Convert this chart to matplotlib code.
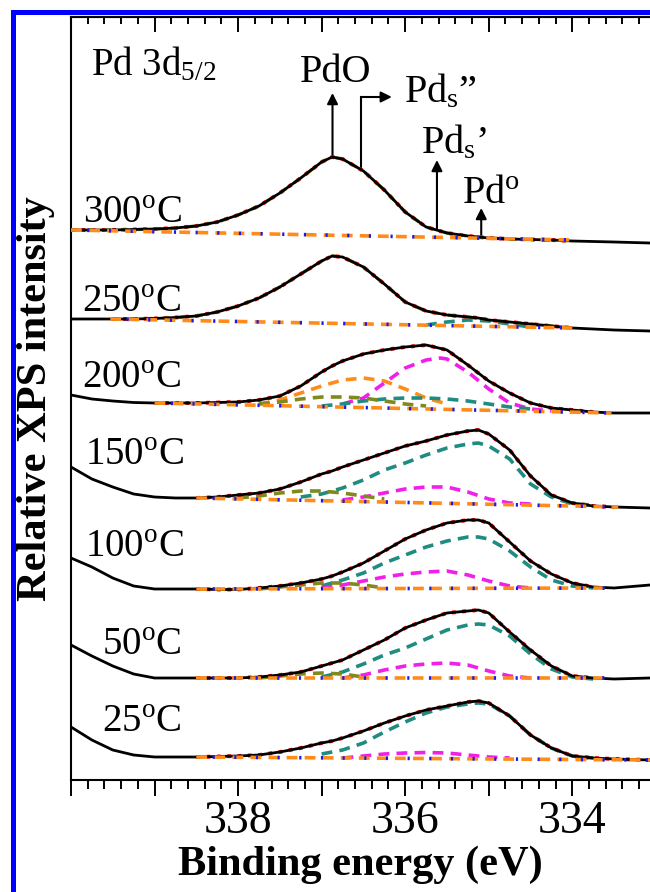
import matplotlib
matplotlib.use("Agg")
import matplotlib.pyplot as plt
import numpy as np
from matplotlib.patches import Rectangle
from matplotlib.ticker import MultipleLocator, FuncFormatter

plt.rcParams['font.family'] = ['Liberation Serif', 'DejaVu Serif']
plt.rcParams['mathtext.fontset'] = 'custom'
plt.rcParams['mathtext.rm'] = 'Liberation Serif'
plt.rcParams['mathtext.it'] = 'Liberation Serif:italic'
plt.rcParams['mathtext.bf'] = 'Liberation Serif:bold'

# binding energy grid of the measured spectra (eV)
energy = [340.0, 339.75, 339.5, 339.25, 339.0, 338.75, 338.5, 338.25, 338.0, 337.75,
          337.5, 337.25, 337.0, 336.875, 336.75, 336.5, 336.25, 336.0, 335.75, 335.5,
          335.25, 335.125, 335.0, 334.75, 334.5, 334.25, 334.0, 333.75, 333.5, 333.07]

temps = ['300', '250', '200', '150', '100', '50', '25']
tick_labels = ['338', '336', '334']

# stacked spectra (relative intensity, arbitrary units incl. offset)
spec_300 = [550, 550, 550, 550.5, 551, 552, 554, 558, 565, 574,
            587, 602, 618, 623, 621, 609, 590, 568, 553, 547,
            544, 543, 542, 541, 540.5, 540, 539, 538.5, 538, 537]
spec_250 = [461, 461, 461, 461, 461.5, 462.5, 464, 468, 474, 482,
            493, 506, 519, 524, 523, 513, 496, 478, 469, 465,
            463, 462, 460, 458, 456, 454, 452, 451, 450, 449]
spec_200 = [385, 381, 379, 377.5, 377, 377, 377, 377.5, 378, 380,
            384, 394, 408, 414, 419, 426, 430, 433, 435, 430,
            415, 407, 399, 387, 377, 372, 370, 368, 367, 367]
spec_150 = [313, 301, 293, 286, 283, 282, 282, 283, 285, 287,
            291, 298, 306, 309, 313, 320, 327, 334, 339, 345,
            349, 350, 346, 330, 304, 285, 277, 274, 273, 272]
spec_100 = [222, 213, 202, 194, 191, 191, 191, 190.5, 190.5, 192,
            194, 197, 201, 204, 208, 217, 229, 241, 250, 257,
            260, 260, 257, 238, 219, 206, 197, 193, 192, 195]
spec_50 = [135, 124, 114, 106, 102, 102, 102, 102, 102, 103,
           105, 108, 114, 117, 120, 130, 140, 152, 160, 167,
           169, 170, 167, 148, 130, 114, 104, 102, 101, 102]
spec_25 = [53, 40, 30, 25, 23, 23, 23, 23.5, 24, 25,
           28, 32, 37, 39, 42, 49, 57, 64, 70, 74,
           78, 79, 77, 64, 45, 32, 24, 22, 21, 20]
spectra = [spec_300, spec_250, spec_200, spec_150, spec_100, spec_50, spec_25]

# fitting background (linear, start/end)
bg_e_start = [340.0, 339.53, 339.0, 338.5, 338.5, 338.5, 338.5]
bg_e_end = [334.0, 334.0, 333.53, 333.45, 333.55, 333.6, 333.07]
bg_h_start = [550, 461, 377, 282, 191, 102, 23]
bg_h_end = [540, 452, 367, 273, 192, 102, 20]

# fitted components
pd0_250_e = [335.75, 335.5, 335.25, 335.0, 334.75, 334.5]
pd0_250 = [455, 458, 460, 459, 456, 453]

pds2_200_e = [337.75, 337.5, 337.25, 337.0, 336.75, 336.5, 336.25, 336.0, 335.75, 335.5]
pds2_200 = [376, 380, 387, 394, 400, 402, 399, 391, 382, 376]
pds1_200_e = [336.75, 336.5, 336.25, 336.0, 335.75, 335.58, 335.5, 335.25, 335.0, 334.75, 334.5, 334.25]
pds1_200 = [376, 382, 397, 412, 420, 422, 421, 408, 391, 377, 371, 369]
pd0_200_e = [337.0, 336.75, 336.5, 336.25, 336.0, 335.75, 335.5, 335.25, 335.0, 334.75, 334.5]
pd0_200 = [374, 376, 379, 381, 382, 382, 381, 379, 376, 373, 371]
pdo_200_e = [337.75, 337.5, 337.25, 337.0, 336.75, 336.5, 336.25, 336.0, 335.75]
pdo_200 = [376, 378, 381, 383, 383, 382, 379, 376, 374]

pd0_150_e = [337.25, 337.0, 336.75, 336.5, 336.25, 336.0, 335.75, 335.5, 335.25, 335.125,
             335.0, 334.75, 334.5, 334.25, 334.0, 333.75]
pd0_150 = [283, 286, 292, 300, 310, 317, 325, 332, 336, 337, 334, 321, 296, 283, 276, 275]
pds1_150_e = [336.75, 336.5, 336.25, 336.0, 335.75, 335.5, 335.25, 335.0, 334.75, 334.5]
pds1_150 = [280, 283, 287, 291, 293, 293, 288, 281, 277, 276]
pdo_150_e = [338.0, 337.75, 337.5, 337.25, 337.0, 336.75, 336.5, 336.25]
pdo_150 = [282, 284, 287, 289, 289, 287, 284, 281]

pd0_e = [337.0, 336.75, 336.5, 336.25, 336.0, 335.75, 335.5, 335.25, 335.125, 335.0,
         334.75, 334.5, 334.25, 334.0, 333.75]
pd0_100 = [194, 200, 207, 217, 225, 233, 239, 243, 243, 241, 229, 213, 200, 194, 192]
pd0_50 = [103, 108, 116, 125, 132, 141, 150, 155, 156, 155, 144, 126, 111, 103, 101]
pd0_25 = [26, 30, 37, 48, 58, 67, 73, 76, 77, 76, 64, 45, 32, 24, 22]

pds1_100_e = [337.0, 336.75, 336.5, 336.25, 336.0, 335.75, 335.5, 335.25, 335.0, 334.75, 334.5]
pds1_100 = [192, 195, 199, 203, 206, 208, 209, 205, 199, 194, 192]
pds1_50_e = [336.75, 336.5, 336.25, 336.0, 335.75, 335.5, 335.25, 335.0, 334.75, 334.5]
pds1_50 = [102, 105, 110, 114, 116, 117, 115, 109, 104, 102]
pds1_25_e = [336.75, 336.5, 336.25, 336.0, 335.75, 335.5, 335.25, 335.0, 334.75]
pds1_25 = [22, 24, 26, 27, 27.5, 27, 25, 23, 22]

pdo_100_e = [337.75, 337.5, 337.25, 337.0, 336.75, 336.5, 336.25]
pdo_100 = [191, 193, 195, 197, 197, 195, 192]
pdo_50_e = [337.75, 337.5, 337.25, 337.0, 336.75, 336.5]
pdo_50 = [102, 104, 106, 107, 106, 103]

# peak positions marked on top spectrum (eV)
peak_names = ['PdO', 'Pd$_{\\rm s}$\u201d', 'Pd$_{\\rm s}$\u2019', 'Pd$^{\\rm o}$']
peak_pos = [336.87, 336.53, 335.62, 335.09]

C_ORANGE = '#FF8C1A'
C_MAGENTA = '#F020E8'
C_TEAL = '#1E8C80'
C_OLIVE = '#7F8A1E'
C_BLUE = '#1A1AE6'

fig = plt.figure(figsize=(6.5, 8.92), dpi=100)
ax = fig.add_axes([71 / 650, 112 / 892, 579 / 650, 763 / 892])

E = np.array(energy)
dash = (0, (3, 2))
for i, spec in enumerate(spectra):
    s = np.array(spec)
    ax.plot(E, s, color='k', lw=2.0, zorder=5)
    m = (E <= bg_e_start[i]) & (E >= bg_e_end[i])
    ax.plot(E[m], s[m], color='red', lw=2.8, ls=':', zorder=4)
    bx = [bg_e_start[i], bg_e_end[i]]
    by = [bg_h_start[i], bg_h_end[i]]
    ax.plot(bx, by, color=C_ORANGE, lw=2.6, ls=dash, zorder=6)
    ax.plot(bx, by, color=C_BLUE, lw=2.6, ls=(1.5, (0.6, 5.4)), zorder=7)
    if i < 2:
        ax.plot(E[m], s[m], color=C_OLIVE, lw=2.4, ls=(0, (2, 3)), zorder=4)

comps = [
    (pd0_250_e, pd0_250, C_TEAL),
    (pds2_200_e, pds2_200, C_ORANGE), (pds1_200_e, pds1_200, C_MAGENTA),
    (pd0_200_e, pd0_200, C_TEAL), (pdo_200_e, pdo_200, C_OLIVE),
    (pd0_150_e, pd0_150, C_TEAL), (pds1_150_e, pds1_150, C_MAGENTA), (pdo_150_e, pdo_150, C_OLIVE),
    (pd0_e, pd0_100, C_TEAL), (pds1_100_e, pds1_100, C_MAGENTA), (pdo_100_e, pdo_100, C_OLIVE),
    (pd0_e, pd0_50, C_TEAL), (pds1_50_e, pds1_50, C_MAGENTA), (pdo_50_e, pdo_50, C_OLIVE),
    (pd0_e, pd0_25, C_TEAL), (pds1_25_e, pds1_25, C_MAGENTA),
]
for ce, cv, col in comps:
    ax.plot(ce, cv, color=col, lw=2.6, ls=dash, zorder=3)

ax.set_xlim(340, 333.07)
ax.set_ylim(0, 763)
ax.set_yticks([])
ax.spines['right'].set_visible(False)
for sp in ['left', 'bottom', 'top']:
    ax.spines[sp].set_linewidth(1.5)

ax.xaxis.set_major_locator(MultipleLocator(1))
ax.xaxis.set_minor_locator(MultipleLocator(0.2))
ax.xaxis.set_major_formatter(FuncFormatter(
    lambda v, p: '%d' % round(v) if '%d' % round(v) in tick_labels else ''))
ax.tick_params(axis='x', which='major', direction='out', length=11.5, width=1.4, pad=3, labelsize=33)
ax.tick_params(axis='x', which='minor', direction='out', length=6.5, width=1.4)

sec = ax.secondary_xaxis('top')
sec.xaxis.set_major_locator(MultipleLocator(1))
sec.xaxis.set_minor_locator(MultipleLocator(0.2))
sec.tick_params(axis='x', which='major', direction='in', length=11, width=1.4, labeltop=False)
sec.tick_params(axis='x', which='minor', direction='in', length=5, width=1.4)
sec.spines['top'].set_linewidth(1.5)

ax.set_xlabel('Binding energy (eV)', fontsize=30.5, fontweight='bold', labelpad=2)
ax.set_ylabel('Relative XPS intensity', fontsize=30.5, fontweight='bold')
ax.yaxis.label.set_va('center')
ax.yaxis.set_label_coords(-0.06, 0.5)

# temperature labels
lab_x = [339.86, 339.87, 339.87, 339.83, 339.83, 339.63, 339.63]
lab_y = [557, 468, 392, 315, 223, 125, 48]
for t, lx, ly in zip(temps, lab_x, lab_y):
    ax.text(lx, ly, t + '$^{\\rm o}$C', fontsize=28, ha='left', va='baseline')

ax.text(339.76, 705, 'Pd 3d$_{\\rm 5/2}$', fontsize=28, ha='left', va='baseline')

ap = dict(arrowstyle='-|>', lw=1.5, color='k', mutation_scale=16, shrinkA=0, shrinkB=0)
# PdO
ax.annotate('', xy=(peak_pos[0], 687), xytext=(peak_pos[0], 623), arrowprops=ap)
ax.text(336.83, 698, peak_names[0], fontsize=29, ha='center', va='baseline')
# Pds''
ax.plot([peak_pos[1], peak_pos[1]], [610, 683], color='k', lw=1.5)
ax.annotate('', xy=(336.16, 683), xytext=(peak_pos[1], 683), arrowprops=ap)
ax.text(336.01, 678, peak_names[1], fontsize=29, ha='left', va='baseline')
# Pds'
ax.annotate('', xy=(peak_pos[2], 620), xytext=(peak_pos[2], 550), arrowprops=ap)
ax.text(335.81, 627, peak_names[2], fontsize=29, ha='left', va='baseline')
# Pd0
ax.annotate('', xy=(peak_pos[3], 572), xytext=(peak_pos[3], 542), arrowprops=ap)
ax.text(335.32, 577, peak_names[3], fontsize=29, ha='left', va='baseline')

# blue frame (top/left edges visible)
fig.patches.append(Rectangle((12.5 / 650, -0.1), 1.2, (892 - 12.5) / 892 + 0.1,
                             transform=fig.transFigure, fill=False, ec='#0000FF', lw=3.6))

fig.savefig('out.png', dpi=100)
